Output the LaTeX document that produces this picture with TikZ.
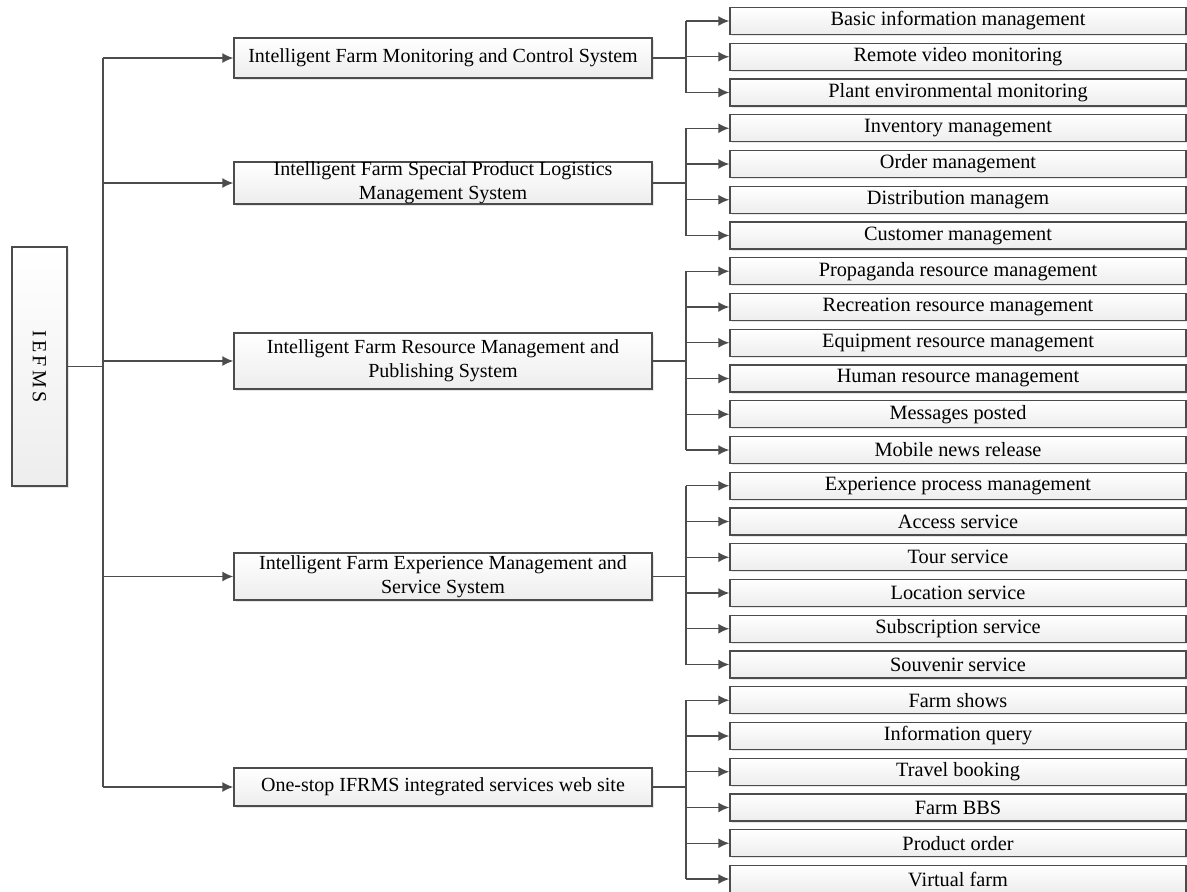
\documentclass[tikz,border=0pt]{standalone}
\usepackage{fontspec}
\setmainfont{Liberation Serif}
\usetikzlibrary{arrows.meta,shadows}

\tikzset{
  box/.style={draw=black!70, line width=0.7pt, top color=white, bottom color=black!7,
    drop shadow={shadow xshift=0.8pt, shadow yshift=-0.8pt, opacity=0.2},
    inner sep=0pt, align=center, font=\fontsize{10}{12}\selectfont},
  leaf/.style={box, minimum width=228pt, minimum height=13.5pt, font=\fontsize{10.15}{12}\selectfont},
  sysbox/.style={box, minimum width=209pt},
  rootbox/.style={box, minimum width=27.5pt, minimum height=119.5pt},
  link/.style={draw=black!70, line width=0.7pt},
  arr/.style={link, -{Latex[length=5.5pt,width=5pt]}},
}

\begin{document}
\begin{tikzpicture}[x=0.5pt,y=-0.5pt]
\useasboundingbox (0,0) rectangle (1187,891);
\clip (0,0) rectangle (1187,891);

% root
\node[rootbox] (root) at (39.5,366.5) {\rotatebox{-90}{I\,E\,F\,M\,S}};
\coordinate (trunk) at (103,366.5);

% systems
\node[sysbox, minimum height=20pt] (sys1) at (443,58) {Intelligent Farm Monitoring and Control System};
\node[sysbox, minimum height=20pt] (sys2) at (443,183) {Intelligent Farm Special Product Logistics\\Management System};
\node[sysbox, minimum height=28pt] (sys3) at (443,361) {Intelligent Farm Resource Management and\\Publishing System};
\node[sysbox, minimum height=23.5pt] (sys4) at (443,576.5) {Intelligent Farm Experience Management and\\Service System};
\node[sysbox, minimum height=19pt] (sys5) at (443,787) {One-stop IFRMS integrated services web site};

% functions
\foreach \i/\txt in {1/Basic information management, 2/Remote video monitoring,
  3/Plant environmental monitoring, 4/Inventory management, 5/Order management,
  6/Distribution managem, 7/Customer management, 8/Propaganda resource management,
  9/Recreation resource management, 10/Equipment resource management,
  11/Human resource management, 12/Messages posted, 13/Mobile news release,
  14/Experience process management, 15/Access service, 16/Tour service,
  17/Location service, 18/Subscription service, 19/Souvenir service,
  20/Farm shows, 21/Information query, 22/Travel booking, 23/Farm BBS,
  24/Product order, 25/Virtual farm}
  \node[leaf] (f\i) at (958,{21+(\i-1)*35.75}) {\txt};

% root to systems
\draw[link] (root.east) -- (trunk);
\draw[link] (sys1.west -| trunk) -- (sys5.west -| trunk);
\foreach \s in {1,...,5}
  \draw[arr] (sys\s.west -| trunk) -- (sys\s.west);

% systems to functions
\foreach \s/\a/\b in {1/1/3, 2/4/7, 3/8/13, 4/14/19, 5/20/25} {
  \coordinate (bus\s) at (686,0);
  \draw[link] (sys\s.east) -- (sys\s.east -| bus\s);
  \draw[link] (f\a.west -| bus\s) -- (f\b.west -| bus\s);
  \foreach \k in {\a,...,\b}
    \draw[arr] (f\k.west -| bus\s) -- (f\k.west);
}
\end{tikzpicture}
\end{document}
